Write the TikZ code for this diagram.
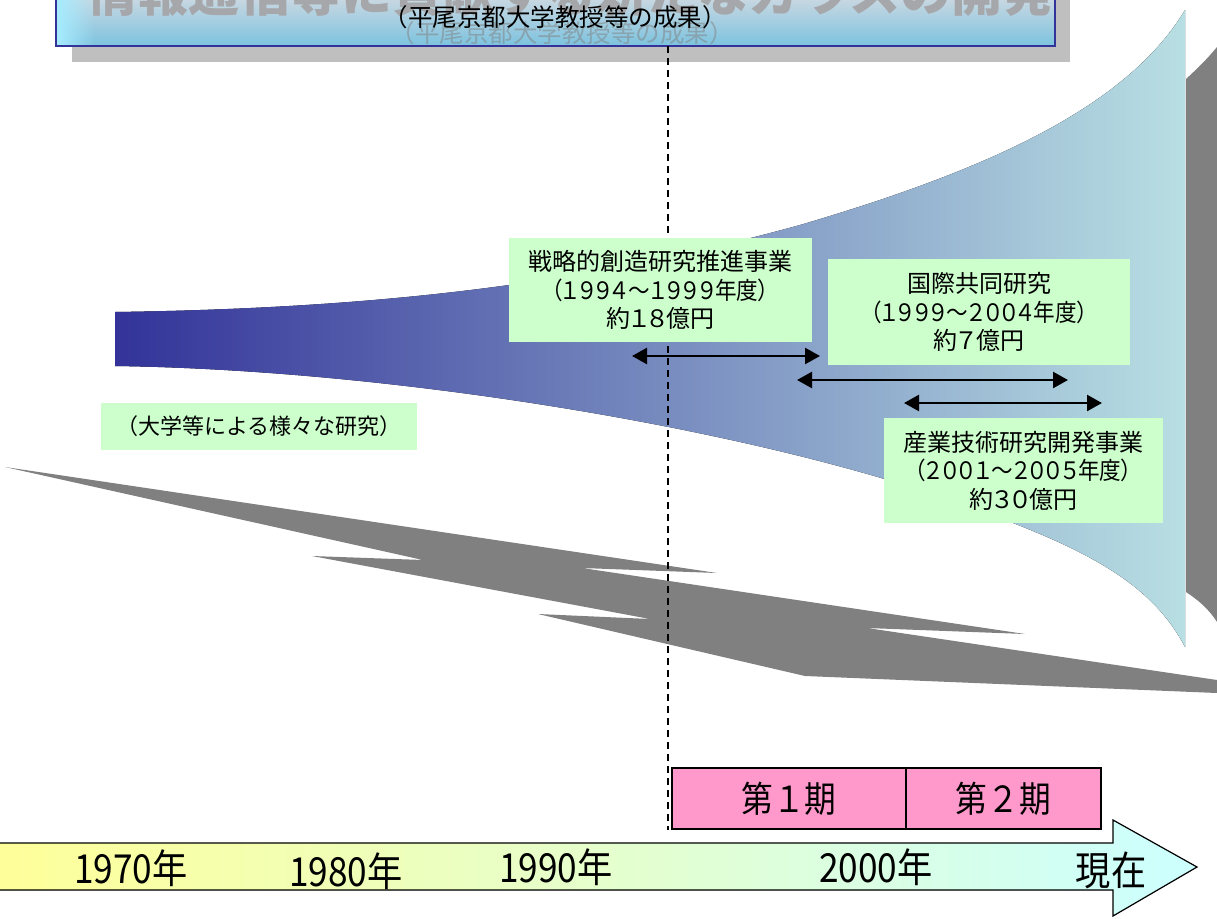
\documentclass[tikz,border=0pt]{standalone}
\usepackage{fontspec}
\setmainfont{Noto Sans CJK JP}
\newfontfamily\jpp[RawFeature=+palt]{Noto Sans CJK JP}
\newfontfamily\jpn[FakeStretch=0.88]{Noto Sans CJK JP}
\newfontfamily\jpd[FakeStretch=0.9,RawFeature=+palt]{Noto Sans CJK JP}
\usetikzlibrary{arrows.meta,fadings}
\definecolor{funL}{HTML}{333399}
\definecolor{funM}{HTML}{8099C2}
\definecolor{funR}{HTML}{B8DFE3}
\definecolor{boxg}{HTML}{CCFFCC}
\definecolor{pinkb}{HTML}{FF99CC}
\definecolor{axL}{HTML}{FFFF99}
\definecolor{axR}{HTML}{CCFFFF}
\definecolor{grayd}{HTML}{808080}
\definecolor{shad}{HTML}{BFBFBF}
\definecolor{ttop}{HTML}{D6DBE2}
\definecolor{tbot}{HTML}{7CC3DF}
\definecolor{tline}{HTML}{333399}
\definecolor{lcy}{HTML}{A6ECFF}
\definecolor{ghost}{HTML}{A6A7AA}
\begin{document}
\begin{tikzpicture}[x=1pt,y=-1pt,
  gbox/.style={fill=boxg, inner sep=0pt, align=center, font=\jpp\fontsize{24}{28.5}\selectfont},
  pbox/.style={fill=pinkb, draw=black, line width=1.5pt, inner sep=0pt, minimum height=61pt, font=\jpn\fontsize{36}{36}\selectfont},
  yr/.style={font=\jpn\fontsize{40}{40}\selectfont, inner sep=0pt},
  dbl/.style={{Triangle[length=15pt,width=16pt]}-{Triangle[length=15pt,width=16pt]}, line width=2.4pt, black}]
\useasboundingbox (0,0) rectangle (1217,918);
\fill[white] (0,0) rectangle (1217,918);
% funnel
\fill[left color=funL, middle color=funM, right color=funR]
  (115,312) .. controls (400,308) and (600,280) .. (800,225)
  .. controls (980,172) and (1125,110) .. (1185,10)
  -- (1185,647)
  .. controls (1150,580) and (1080,545) .. (950,500)
  .. controls (750,430) and (400,370) .. (115,366) -- cycle;
% grey back side
\fill[grayd] (1186,79) .. controls (1198,68) and (1208,58) .. (1217,47) -- (1217,622)
  .. controls (1208,608) and (1198,600) .. (1186,592) -- cycle;
% lightning
\fill[grayd] (5,467) -- (717,573) -- (582,568) -- (1025,634) -- (867,628) -- (1217,680)
  -- (1217,693) -- (805,676) -- (538,614) -- (650,619) -- (312,556) -- (423,560) -- cycle;
% title box
\fill[shad] (72,-10) rectangle (1070,62);
\shade[top color=ttop, bottom color=tbot] (56,-10) rectangle (1055,46);
\fill[lcy, path fading=east] (57,-10) rectangle (95,45);
\draw[tline, line width=2pt] (56,-10) rectangle (1055,46);
\node[font=\bfseries\fontsize{51}{51}\selectfont, text=ghost, anchor=base, inner sep=0pt] (gtitle) at (570,11) {情報通信等に貢献する新たなガラスの開発};
\node[font=\fontsize{24.5}{24.5}\selectfont, text=gray, opacity=0.5, inner sep=0pt] (gsub) at (562,33) {（平尾京都大学教授等の成果）};
\node[font=\fontsize{24.5}{24.5}\selectfont, inner sep=0pt] (sub) at (555,17) {（平尾京都大学教授等の成果）};
% dashed line
\coordinate (dtop) at (668,46);
\coordinate (dbot) at (668,830);
\draw[line width=1.5pt, dash pattern=on 7pt off 5pt] (dtop) -- (dbot);
% green boxes
\node[gbox, minimum width=303pt, minimum height=104pt] (ba) at (660.5,290) {戦略的創造研究推進事業\\{\jpd（１９９４～１９９９年度）}\\約１８億円};
\node[gbox, minimum width=302pt, minimum height=106pt] (bb) at (979,312) {国際共同研究\\{\jpd（１９９９～２００４年度）}\\約７億円};
\node[gbox, minimum width=279pt, minimum height=105pt] (bc) at (1023.5,470.5) {産業技術研究開発事業\\{\jpd（２００１～２００５年度）}\\約３０億円};
\node[fill=boxg, inner sep=0pt, minimum width=316pt, minimum height=47pt, font=\fontsize{22}{22}\selectfont] (bd) at (259,426.5) {（大学等による様々な研究）};
% arrows
\coordinate (a1l) at (632,356); \coordinate (a1r) at (820,356);
\coordinate (a2l) at (797,380); \coordinate (a2r) at (1068,380);
\coordinate (a3l) at (904,403); \coordinate (a3r) at (1102,403);
\draw[dbl] (a1l) -- (a1r);
\draw[dbl] (a2l) -- (a2r);
\draw[dbl] (a3l) -- (a3r);
% period boxes
\node[pbox, minimum width=234pt] (p1) at (789,798.5) {第１期};
\node[pbox, minimum width=195pt] (p2) at (1003.5,798.5) {第２期};
% time axis
\filldraw[left color=axL, right color=axR, draw=black, line width=1.2pt]
  (-10,843) -- (1113,843) -- (1113,820) -- (1197,867) -- (1113,916) -- (1113,890) -- (-10,890) -- cycle;
\node[yr] (y70) at (131,868) {1970年};
\node[yr] (y80) at (346,871) {1980年};
\node[yr] (y90) at (556,867) {1990年};
\node[yr] (y00) at (876,867) {2000年};
\node[yr] (ynow) at (1111,870) {現在};
\end{tikzpicture}
\end{document}
